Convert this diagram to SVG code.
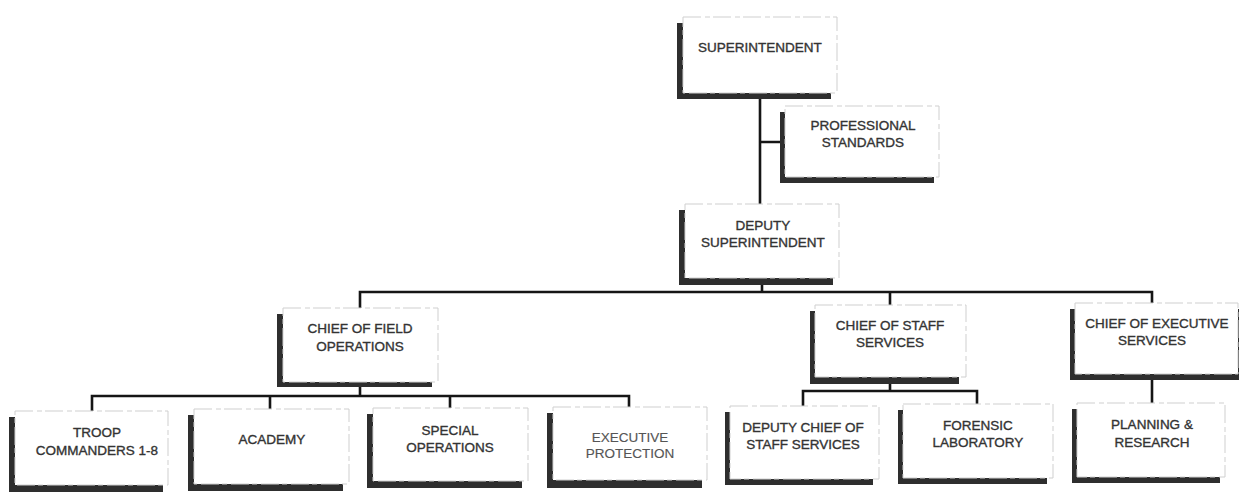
<svg xmlns="http://www.w3.org/2000/svg" width="1239" height="497" viewBox="0 0 1239 497">
<style>
.shadow{fill:#2e2e2e}
.box{fill:#fff;stroke:#cfcfcf;stroke-width:1;stroke-dasharray:18 4 5 3}
.t{font-family:"Liberation Sans",Arial,sans-serif;font-size:13.5px;font-weight:normal;fill:#333;stroke:#333;stroke-width:0.35;text-anchor:middle}
.l{fill:#555;stroke:#555;stroke-width:0.15}
.c{stroke:#151515;stroke-width:2.6;fill:none}
</style>
<rect width="1239" height="497" fill="#fff"/>
<g id="connectors">
<path class="c" d="M760 99V205M760 142H781"/>
<path class="c" d="M762 285V292M360 308V292H1152V303M890 292V305"/>
<path class="c" d="M360 387V396M92 411V396H629V407M270 396V409M450 396V408"/>
<path class="c" d="M890 384V391M803 406V391H977V404"/>
<path class="c" d="M1152 380V403"/>
</g>
<g id="superintendent">
<rect class="shadow" x="677" y="23" width="154" height="76"/>
<rect class="box" x="683" y="17" width="154" height="76"/>
<text class="t" x="760" y="52">SUPERINTENDENT</text>
</g>
<g id="professional-standards">
<rect class="shadow" x="780" y="112" width="154" height="71"/>
<rect class="box" x="785" y="106" width="154" height="71"/>
<text class="t" x="863" y="130">PROFESSIONAL</text>
<text class="t" x="863" y="147">STANDARDS</text>
</g>
<g id="deputy-superintendent">
<rect class="shadow" x="679" y="210" width="154" height="75"/>
<rect class="box" x="685" y="204" width="154" height="74"/>
<text class="t" x="763" y="230">DEPUTY</text>
<text class="t" x="763" y="247">SUPERINTENDENT</text>
</g>
<g id="chief-field-operations">
<rect class="shadow" x="277" y="314" width="155" height="73"/>
<rect class="box" x="283" y="308" width="155" height="74"/>
<text class="t" x="360" y="333">CHIEF OF FIELD</text>
<text class="t" x="360" y="351">OPERATIONS</text>
</g>
<g id="chief-staff-services">
<rect class="shadow" x="810" y="311" width="149" height="73"/>
<rect class="box" x="815" y="305" width="151" height="72"/>
<text class="t" x="890" y="330">CHIEF OF STAFF</text>
<text class="t" x="890" y="347">SERVICES</text>
</g>
<g id="chief-executive-services">
<rect class="shadow" x="1070" y="309" width="169" height="71"/>
<rect class="box" x="1075" y="303" width="163" height="71"/>
<text class="t" x="1157" y="328">CHIEF OF EXECUTIVE</text>
<text class="t" x="1152" y="345">SERVICES</text>
</g>
<g id="troop-commanders">
<rect class="shadow" x="9" y="417" width="154" height="75"/>
<rect class="box" x="15" y="411" width="153" height="74"/>
<text class="t" x="97" y="437">TROOP</text>
<text class="t" x="97" y="455">COMMANDERS 1-8</text>
</g>
<g id="academy">
<rect class="shadow" x="188" y="415" width="155" height="76"/>
<rect class="box" x="194" y="409" width="155" height="75"/>
<text class="t" x="272" y="444">ACADEMY</text>
</g>
<g id="special-operations">
<rect class="shadow" x="367" y="414" width="155" height="74"/>
<rect class="box" x="373" y="408" width="155" height="73"/>
<text class="t" x="450" y="435">SPECIAL</text>
<text class="t" x="450" y="452">OPERATIONS</text>
</g>
<g id="executive-protection">
<rect class="shadow" x="547" y="413" width="155" height="75"/>
<rect class="box" x="553" y="407" width="154" height="73"/>
<text class="t l" x="630" y="442">EXECUTIVE</text>
<text class="t l" x="630" y="458">PROTECTION</text>
</g>
<g id="deputy-chief-staff-services">
<rect class="shadow" x="725" y="412" width="148" height="73"/>
<rect class="box" x="730" y="406" width="149" height="73"/>
<text class="t" x="803" y="432">DEPUTY CHIEF OF</text>
<text class="t" x="803" y="449">STAFF SERVICES</text>
</g>
<g id="forensic-laboratory">
<rect class="shadow" x="898" y="410" width="149" height="74"/>
<rect class="box" x="903" y="404" width="150" height="74"/>
<text class="t" x="978" y="430">FORENSIC</text>
<text class="t" x="978" y="447">LABORATORY</text>
</g>
<g id="planning-research">
<rect class="shadow" x="1072" y="409" width="148" height="74"/>
<rect class="box" x="1077" y="403" width="148" height="74"/>
<text class="t" x="1152" y="429">PLANNING &amp;</text>
<text class="t" x="1152" y="447">RESEARCH</text>
</g>
</svg>
